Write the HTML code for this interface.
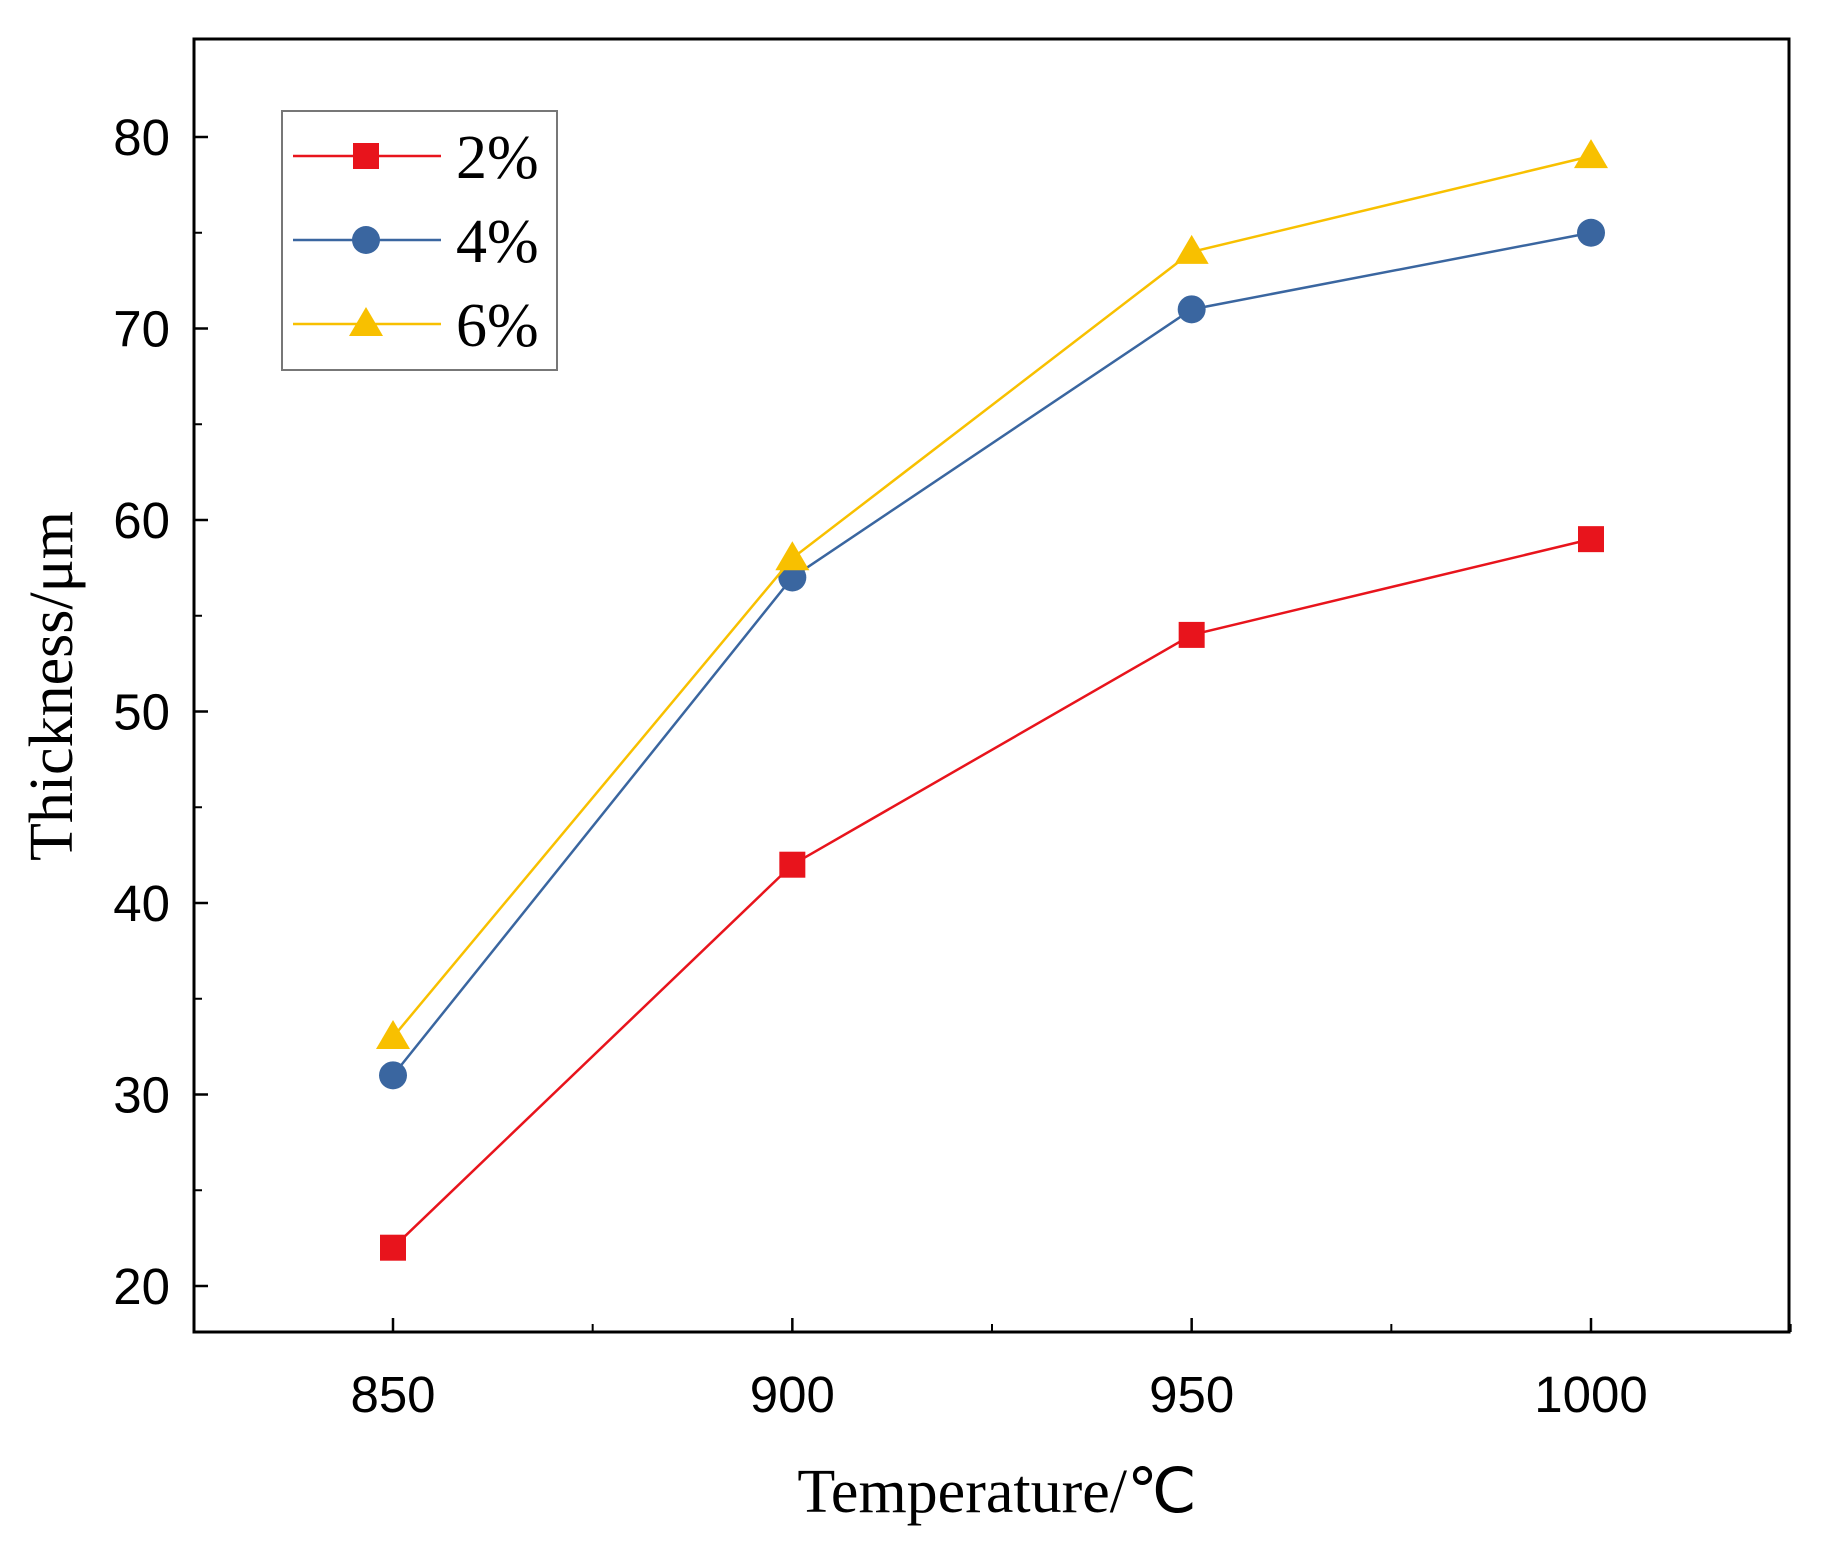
<!DOCTYPE html>
<html><head><meta charset="utf-8"><style>
html,body{margin:0;padding:0;background:#fff;}
svg{display:block;}
</style></head><body>
<svg id="chart" width="1830" height="1545" viewBox="0 0 1830 1545" xmlns="http://www.w3.org/2000/svg">
<rect x="194" y="39" width="1595" height="1293" fill="#fff" stroke="#000" stroke-width="3"/>
<g id="axes"></g>
<g id="series"></g>
<text x="72" y="686" transform="rotate(-90 72 686)" text-anchor="middle" font-family="'Liberation Serif',serif" font-size="62">Thickness/μm</text>
<text x="997" y="1512" text-anchor="middle" font-family="'Liberation Serif',serif" font-size="62">Temperature/℃</text>
<g>
<rect x="282" y="111" width="275" height="259" fill="#fff" stroke="#777" stroke-width="2"/>
<g id="legend"></g>
</g>
</svg>
<script>
const categories=[850,900,950,1000];
const series2=[22,42,54,59];
const series4=[31,57,71,75];
const series6=[33,58,74,79];
const seriesNames=["2%","4%","6%"];
const xTicks=[850,900,950,1000];
const yTicks=[20,30,40,50,60,70,80];
const NS="http://www.w3.org/2000/svg";
function xs(v){return 393+(v-850)*(1198/150);}
function ys(v){return 1286-(v-20)*(1149/60);}
function mk(tag,attrs,parent){const e=document.createElementNS(NS,tag);for(const k in attrs)e.setAttribute(k,attrs[k]);parent.appendChild(e);return e;}
const axes=document.getElementById('axes');
yTicks.forEach(t=>{
  const l=mk('line',{x1:194,x2:208,y1:ys(t),y2:ys(t),stroke:'#000','stroke-width':2.5},axes);
  
  
  const tx=mk('text',{x:170,y:ys(t)+18,'text-anchor':'end','font-family':"'Liberation Sans',sans-serif",'font-size':51},axes);
  tx.textContent=t;
  
  
  if(t<80){const m=mk('line',{x1:194,x2:202,y1:ys(t+5),y2:ys(t+5),stroke:'#000','stroke-width':2},axes);
  
  }
});
xTicks.forEach(t=>{
  const l=mk('line',{x1:xs(t),x2:xs(t),y1:1332,y2:1318,stroke:'#000','stroke-width':2.5},axes);
  
  
  const tx=mk('text',{x:xs(t),y:1412,'text-anchor':'middle','font-family':"'Liberation Sans',sans-serif",'font-size':51},axes);
  tx.textContent=t;
  
  
  const m=mk('line',{x1:xs(t+25),x2:xs(t+25),y1:1332,y2:1324,stroke:'#000','stroke-width':2},axes);
  
  
});
const colors=["#e8141c","#3a66a0","#f8c000"];
const shapes=["square","circle","triangle"];
function marker(shape,x,y,c,parent){
  let e;
  if(shape==='square')e=mk('rect',{x:x-13,y:y-13,width:26,height:26,fill:c},parent);
  else if(shape==='circle')e=mk('circle',{cx:x,cy:y,r:14,fill:c},parent);
  else e=mk('polygon',{points:`${x},${y-17} ${x+17},${y+12} ${x-17},${y+12}`,fill:c},parent);
  return e;
}
const seriesG=document.getElementById('series');
[series2,series4,series6].forEach((vals,i)=>{
  const pts=vals.map((v,j)=>xs(categories[j])+','+ys(v)).join(' ');
  const pl=mk('polyline',{points:pts,fill:'none',stroke:colors[i],'stroke-width':2.5},seriesG);
  
  
  vals.forEach((v,j)=>{
    const m=marker(shapes[i],xs(categories[j]),ys(v),colors[i],seriesG);
    
    
  });
});
const lg=document.getElementById('legend');
seriesNames.forEach((n,i)=>{
  const y=156+i*84;
  const l=mk('line',{x1:293,x2:441,y1:y,y2:y,stroke:colors[i],'stroke-width':2.5},lg);
  
  
  const m=marker(shapes[i],366,y,colors[i],lg);
  
  
  const t=mk('text',{x:456,y:y+22,'font-family':"'Liberation Serif',serif",'font-size':62},lg);
  t.textContent=n;
  
  
});
</script>
</body></html>
